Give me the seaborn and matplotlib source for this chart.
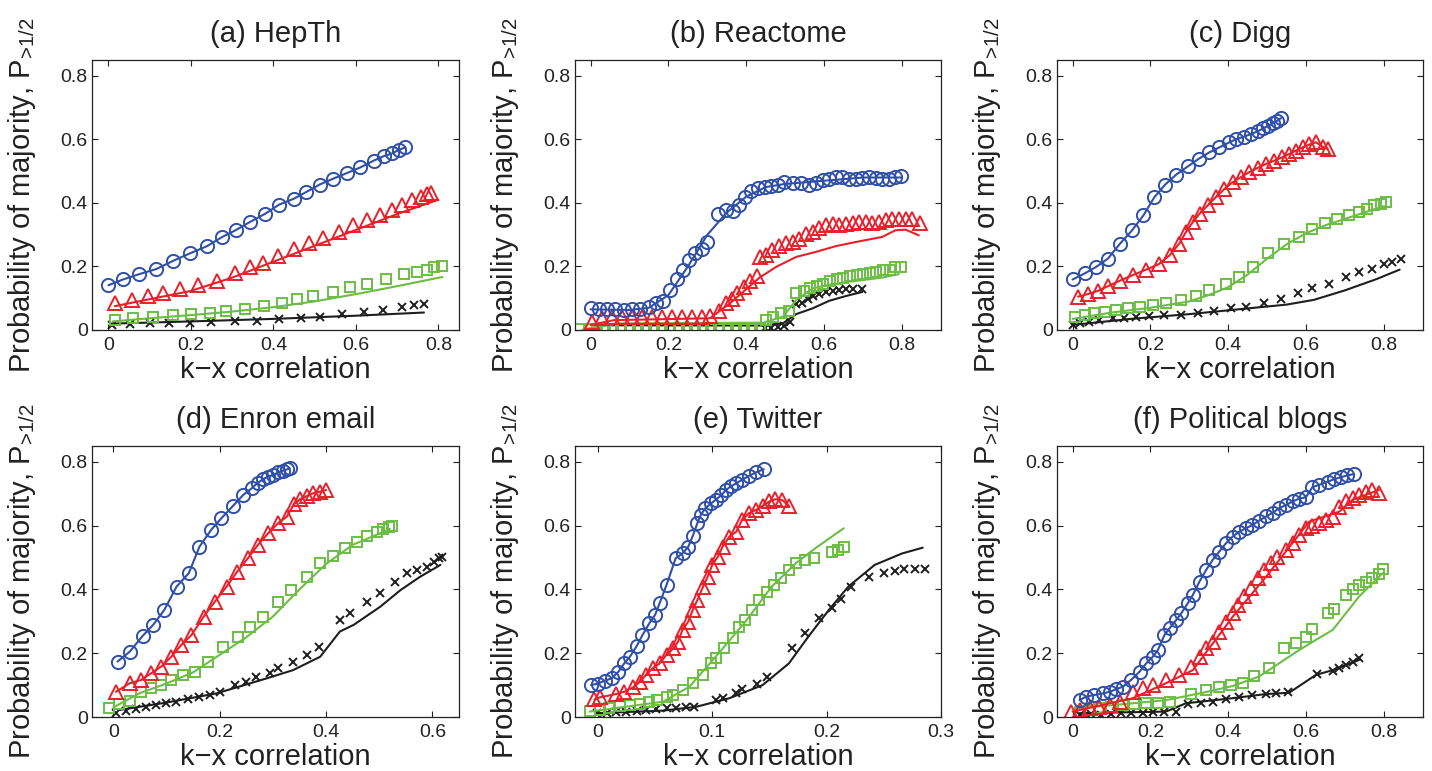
import matplotlib
matplotlib.use("Agg")
import matplotlib.pyplot as plt
import seaborn as sns

# ---- data: (k-x correlation, P>1/2) ----
titles = ["(a) HepTh", "(b) Reactome", "(c) Digg",
          "(d) Enron email", "(e) Twitter", "(f) Political blogs"]
xlabel = "k\u2212x correlation"
ylabel = r"Probability of majority, P$_{\text{>1/2}}$"
yticks = [0, 0.2, 0.4, 0.6, 0.8]
ytick_labels = ["0", "0.2", "0.4", "0.6", "0.8"]
xticks_wide = [0, 0.2, 0.4, 0.6, 0.8]
xtick_labels_wide = ["0", "0.2", "0.4", "0.6", "0.8"]
xticks_enron = [0, 0.2, 0.4, 0.6]
xtick_labels_enron = ["0", "0.2", "0.4", "0.6"]
xticks_twitter = [0, 0.1, 0.2, 0.3]
xtick_labels_twitter = ["0", "0.1", "0.2", "0.3"]

# (a) HepTh
a_blue = [(0.0, 0.141), (0.035, 0.159), (0.075, 0.176), (0.116, 0.192), (0.157, 0.218), (0.197, 0.241),
          (0.239, 0.264), (0.276, 0.293), (0.308, 0.314), (0.343, 0.340), (0.380, 0.366), (0.414, 0.395),
          (0.449, 0.413), (0.479, 0.434), (0.512, 0.458), (0.544, 0.476), (0.578, 0.494), (0.611, 0.512),
          (0.643, 0.533), (0.667, 0.547), (0.688, 0.556), (0.704, 0.567), (0.720, 0.575)]
a_red = [(0.015, 0.084), (0.058, 0.094), (0.096, 0.107), (0.132, 0.115), (0.173, 0.128), (0.217, 0.141),
         (0.264, 0.154), (0.307, 0.180), (0.343, 0.199), (0.375, 0.211), (0.412, 0.232), (0.449, 0.256),
         (0.487, 0.274), (0.520, 0.291), (0.558, 0.308), (0.594, 0.329), (0.627, 0.347), (0.659, 0.363),
         (0.688, 0.379), (0.712, 0.392), (0.736, 0.408), (0.757, 0.418), (0.773, 0.429), (0.783, 0.431)]
a_red_fit = [(0.015, 0.075), (0.1, 0.097), (0.2, 0.123), (0.3, 0.165), (0.4, 0.215), (0.5, 0.265),
             (0.6, 0.315), (0.7, 0.365), (0.8, 0.41)]
a_green = [(0.015, 0.033), (0.059, 0.037), (0.108, 0.042), (0.157, 0.047), (0.201, 0.050), (0.246, 0.054),
           (0.286, 0.060), (0.331, 0.065), (0.376, 0.075), (0.420, 0.086), (0.457, 0.099), (0.497, 0.107),
           (0.544, 0.119), (0.586, 0.134), (0.627, 0.144), (0.672, 0.159), (0.716, 0.176), (0.749, 0.183),
           (0.773, 0.190), (0.789, 0.199), (0.808, 0.201)]
a_green_fit = [(0.01, 0.027), (0.1, 0.037), (0.2, 0.047), (0.3, 0.058), (0.4, 0.072), (0.5, 0.09),
               (0.6, 0.113), (0.7, 0.138), (0.81, 0.167)]
a_black = [(0.008, 0.016), (0.051, 0.018), (0.100, 0.021), (0.147, 0.021), (0.197, 0.023), (0.248, 0.026),
           (0.307, 0.029), (0.361, 0.029), (0.414, 0.035), (0.467, 0.037), (0.513, 0.042), (0.566, 0.050),
           (0.619, 0.058), (0.666, 0.063), (0.712, 0.073), (0.740, 0.078), (0.765, 0.082)]
a_black_fit = [(0.006, 0.02), (0.2, 0.027), (0.4, 0.035), (0.6, 0.045), (0.765, 0.055)]

# (b) Reactome
b_blue = [(0.0, 0.068), (0.021, 0.065), (0.043, 0.065), (0.064, 0.065), (0.085, 0.063), (0.106, 0.067),
          (0.128, 0.067), (0.149, 0.073), (0.169, 0.084), (0.186, 0.092), (0.204, 0.125), (0.221, 0.159),
          (0.237, 0.188), (0.254, 0.220), (0.268, 0.241), (0.285, 0.256), (0.298, 0.277), (0.328, 0.364),
          (0.347, 0.379), (0.366, 0.376), (0.381, 0.395), (0.396, 0.420), (0.413, 0.437), (0.430, 0.448),
          (0.447, 0.450), (0.464, 0.452), (0.481, 0.458), (0.498, 0.465), (0.519, 0.462), (0.541, 0.462),
          (0.562, 0.458), (0.579, 0.462), (0.596, 0.471), (0.613, 0.476), (0.630, 0.481), (0.647, 0.481),
          (0.664, 0.476), (0.681, 0.476), (0.698, 0.479), (0.715, 0.481), (0.732, 0.479), (0.749, 0.476),
          (0.766, 0.476), (0.783, 0.481), (0.796, 0.486)]
b_blue_fit = [(0.0, 0.065), (0.1, 0.063), (0.15, 0.07), (0.2, 0.11), (0.25, 0.2), (0.3, 0.3),
              (0.35, 0.37), (0.4, 0.42), (0.45, 0.45), (0.5, 0.46), (0.6, 0.47), (0.7, 0.48), (0.8, 0.48)]
b_red = [(0.004, 0.026), (0.030, 0.037), (0.055, 0.042), (0.081, 0.042), (0.106, 0.042), (0.132, 0.042),
         (0.158, 0.042), (0.183, 0.042), (0.209, 0.042), (0.234, 0.042), (0.260, 0.042), (0.285, 0.042),
         (0.307, 0.044), (0.330, 0.061), (0.349, 0.084), (0.362, 0.099), (0.376, 0.115), (0.393, 0.134),
         (0.410, 0.155), (0.427, 0.169), (0.434, 0.230), (0.450, 0.235), (0.467, 0.251), (0.484, 0.264),
         (0.502, 0.274), (0.519, 0.277), (0.536, 0.288), (0.553, 0.303), (0.570, 0.308), (0.587, 0.322),
         (0.605, 0.329), (0.622, 0.335), (0.639, 0.332), (0.656, 0.335), (0.673, 0.337), (0.690, 0.340),
         (0.707, 0.340), (0.724, 0.337), (0.741, 0.340), (0.758, 0.345), (0.775, 0.350), (0.792, 0.350),
         (0.809, 0.350), (0.826, 0.350), (0.847, 0.337)]
b_red_fit = [(0.0, 0.016), (0.060, 0.031), (0.307, 0.037), (0.358, 0.084), (0.434, 0.165), (0.477, 0.199),
             (0.528, 0.230), (0.579, 0.246), (0.630, 0.264), (0.681, 0.277), (0.749, 0.293), (0.783, 0.314),
             (0.809, 0.316), (0.843, 0.298)]
b_green = [(-0.026, 0.004), (-0.005, 0.004), (0.016, 0.004), (0.037, 0.004), (0.058, 0.004), (0.079, 0.004),
           (0.100, 0.004), (0.121, 0.004), (0.142, 0.004), (0.163, 0.004), (0.184, 0.004), (0.205, 0.004),
           (0.226, 0.004), (0.247, 0.004), (0.268, 0.004), (0.289, 0.004), (0.310, 0.004), (0.331, 0.004),
           (0.352, 0.004), (0.373, 0.004), (0.394, 0.004), (0.415, 0.004), (0.436, 0.006),
           (0.451, 0.031), (0.468, 0.042), (0.490, 0.052), (0.509, 0.061), (0.528, 0.115), (0.547, 0.123),
           (0.564, 0.131), (0.581, 0.138), (0.598, 0.146), (0.615, 0.155), (0.632, 0.162), (0.649, 0.165),
           (0.666, 0.169), (0.683, 0.173), (0.700, 0.176), (0.717, 0.180), (0.734, 0.183), (0.751, 0.188),
           (0.768, 0.190), (0.783, 0.197), (0.796, 0.199)]
b_green_fit = [(-0.02, 0.002), (0.072, 0.021), (0.443, 0.023), (0.494, 0.042), (0.528, 0.094), (0.570, 0.131),
               (0.613, 0.143), (0.664, 0.152), (0.698, 0.157), (0.749, 0.165), (0.792, 0.176)]
b_black = [(0.447, 0.005), (0.464, 0.005), (0.481, 0.008), (0.498, 0.013), (0.511, 0.026), (0.528, 0.082),
           (0.543, 0.086), (0.558, 0.099), (0.572, 0.107), (0.587, 0.113), (0.605, 0.119), (0.622, 0.123),
           (0.639, 0.125), (0.656, 0.128), (0.673, 0.130), (0.698, 0.128)]
b_black_fit = [(0.004, 0.015), (0.443, 0.014), (0.494, 0.021), (0.528, 0.050), (0.570, 0.068),
               (0.613, 0.092), (0.656, 0.107), (0.698, 0.120)]

# (c) Digg
c_blue = [(0.0, 0.159), (0.031, 0.178), (0.061, 0.199), (0.091, 0.225), (0.122, 0.272), (0.153, 0.314),
          (0.182, 0.361), (0.210, 0.418), (0.238, 0.458), (0.266, 0.489), (0.296, 0.515), (0.324, 0.539),
          (0.351, 0.559), (0.377, 0.575), (0.403, 0.591), (0.421, 0.601), (0.441, 0.609), (0.458, 0.617),
          (0.475, 0.625), (0.490, 0.635), (0.503, 0.643), (0.515, 0.652), (0.526, 0.659), (0.535, 0.667)]
c_red = [(0.014, 0.105), (0.039, 0.113), (0.065, 0.123), (0.091, 0.138), (0.121, 0.155), (0.155, 0.173),
         (0.189, 0.190), (0.221, 0.207), (0.249, 0.235), (0.274, 0.272), (0.291, 0.308), (0.309, 0.340),
         (0.326, 0.366), (0.347, 0.392), (0.368, 0.418), (0.390, 0.444), (0.411, 0.465), (0.432, 0.481),
         (0.454, 0.497), (0.475, 0.510), (0.497, 0.523), (0.518, 0.533), (0.539, 0.544), (0.556, 0.554),
         (0.574, 0.565), (0.591, 0.575), (0.608, 0.584), (0.625, 0.591), (0.642, 0.577), (0.655, 0.570)]
c_green = [(0.005, 0.042), (0.031, 0.047), (0.056, 0.052), (0.082, 0.058), (0.112, 0.063), (0.142, 0.068),
           (0.172, 0.073), (0.206, 0.078), (0.240, 0.084), (0.279, 0.094), (0.317, 0.107), (0.351, 0.125),
           (0.394, 0.146), (0.428, 0.167), (0.464, 0.199), (0.503, 0.241), (0.544, 0.270), (0.582, 0.293),
           (0.616, 0.319), (0.649, 0.337), (0.680, 0.350), (0.710, 0.361), (0.736, 0.371), (0.757, 0.382),
           (0.774, 0.392), (0.791, 0.397), (0.804, 0.403)]
c_green_fit = [(0.0, 0.035), (0.1, 0.055), (0.2, 0.07), (0.3, 0.09), (0.35, 0.11), (0.4, 0.135),
               (0.45, 0.175), (0.5, 0.225), (0.55, 0.27), (0.6, 0.305), (0.65, 0.33), (0.7, 0.35), (0.8, 0.39)]
c_black = [(0.0, 0.016), (0.018, 0.021), (0.042, 0.026), (0.069, 0.031), (0.103, 0.037), (0.133, 0.037),
           (0.163, 0.040), (0.197, 0.044), (0.236, 0.047), (0.279, 0.047), (0.321, 0.052), (0.364, 0.061),
           (0.407, 0.068), (0.445, 0.073), (0.492, 0.084), (0.535, 0.099), (0.578, 0.115), (0.616, 0.131),
           (0.659, 0.146), (0.702, 0.167), (0.736, 0.183), (0.770, 0.193), (0.800, 0.207), (0.821, 0.214),
           (0.843, 0.222)]
c_black_fit = [(0.0, 0.016), (0.15, 0.035), (0.3, 0.05), (0.45, 0.068), (0.55, 0.08), (0.62, 0.095),
               (0.7, 0.125), (0.78, 0.16), (0.84, 0.19)]

# (d) Enron email
d_blue = [(0.008, 0.174), (0.031, 0.205), (0.055, 0.254), (0.075, 0.289), (0.096, 0.336), (0.119, 0.409),
          (0.142, 0.451), (0.162, 0.534), (0.184, 0.587), (0.203, 0.623), (0.225, 0.662), (0.244, 0.696),
          (0.260, 0.717), (0.272, 0.735), (0.282, 0.746), (0.291, 0.754), (0.301, 0.759), (0.310, 0.767),
          (0.319, 0.773), (0.327, 0.777), (0.332, 0.780)]
d_red = [(0.005, 0.079), (0.031, 0.106), (0.052, 0.116), (0.071, 0.137), (0.090, 0.158), (0.109, 0.189),
         (0.128, 0.226), (0.147, 0.257), (0.170, 0.315), (0.191, 0.362), (0.213, 0.409), (0.233, 0.456),
         (0.253, 0.498), (0.272, 0.540), (0.291, 0.576), (0.310, 0.608), (0.326, 0.628), (0.340, 0.668),
         (0.351, 0.683), (0.364, 0.693), (0.376, 0.702), (0.389, 0.707), (0.400, 0.712)]
d_green = [(-0.008, 0.027), (0.011, 0.041), (0.031, 0.051), (0.052, 0.079), (0.071, 0.090), (0.090, 0.100),
           (0.109, 0.116), (0.131, 0.132), (0.153, 0.142), (0.178, 0.174), (0.206, 0.221), (0.235, 0.252),
           (0.257, 0.283), (0.282, 0.313), (0.310, 0.362), (0.335, 0.398), (0.364, 0.440), (0.389, 0.482),
           (0.414, 0.505), (0.436, 0.529), (0.458, 0.550), (0.477, 0.568), (0.496, 0.581), (0.508, 0.589),
           (0.518, 0.597), (0.524, 0.599)]
d_green_fit = [(0.0, 0.03), (0.05, 0.075), (0.1, 0.105), (0.15, 0.14), (0.2, 0.195), (0.25, 0.25),
               (0.3, 0.315), (0.35, 0.4), (0.4, 0.48), (0.45, 0.54), (0.5, 0.575), (0.52, 0.59)]
d_black = [(0.005, 0.012), (0.024, 0.020), (0.043, 0.024), (0.062, 0.030), (0.081, 0.038), (0.099, 0.043),
           (0.118, 0.048), (0.140, 0.055), (0.162, 0.064), (0.181, 0.069), (0.200, 0.079), (0.228, 0.100),
           (0.250, 0.111), (0.269, 0.127), (0.294, 0.137), (0.310, 0.153), (0.338, 0.174), (0.364, 0.195),
           (0.386, 0.221), (0.426, 0.304), (0.445, 0.325), (0.477, 0.362), (0.502, 0.388), (0.530, 0.425),
           (0.552, 0.451), (0.571, 0.461), (0.590, 0.472), (0.603, 0.487), (0.612, 0.498), (0.618, 0.503)]
d_black_fit = [(0.011, 0.022), (0.099, 0.045), (0.194, 0.074), (0.288, 0.121), (0.338, 0.147), (0.389, 0.189),
               (0.426, 0.268), (0.452, 0.289), (0.502, 0.346), (0.540, 0.398), (0.577, 0.440), (0.615, 0.477)]

# (e) Twitter
e_blue = [(-0.006, 0.100), (0.000, 0.105), (0.006, 0.114), (0.012, 0.121), (0.018, 0.142), (0.023, 0.168),
          (0.028, 0.189), (0.034, 0.223), (0.039, 0.257), (0.045, 0.294), (0.050, 0.320), (0.054, 0.357),
          (0.060, 0.414), (0.068, 0.498), (0.074, 0.513), (0.079, 0.534), (0.083, 0.568), (0.087, 0.608),
          (0.090, 0.634), (0.094, 0.655), (0.099, 0.670), (0.103, 0.681), (0.108, 0.696), (0.112, 0.712),
          (0.116, 0.723), (0.121, 0.733), (0.126, 0.744), (0.132, 0.756), (0.138, 0.767), (0.145, 0.777)]
e_red = [(-0.003, 0.055), (0.002, 0.062), (0.016, 0.072), (0.023, 0.079), (0.031, 0.093), (0.037, 0.111),
         (0.042, 0.132), (0.048, 0.153), (0.054, 0.168), (0.060, 0.195), (0.066, 0.215), (0.070, 0.236),
         (0.074, 0.273), (0.079, 0.299), (0.083, 0.336), (0.087, 0.367), (0.092, 0.409), (0.096, 0.440),
         (0.100, 0.477), (0.105, 0.503), (0.109, 0.534), (0.115, 0.566), (0.121, 0.581), (0.126, 0.618),
         (0.132, 0.639), (0.138, 0.649), (0.144, 0.662), (0.150, 0.676), (0.155, 0.683), (0.161, 0.681),
         (0.167, 0.662)]
e_green = [(-0.007, 0.020), (0.002, 0.022), (0.010, 0.027), (0.019, 0.035), (0.028, 0.038), (0.037, 0.041),
           (0.045, 0.048), (0.052, 0.053), (0.060, 0.064), (0.066, 0.069), (0.074, 0.085), (0.083, 0.106),
           (0.092, 0.132), (0.099, 0.168), (0.103, 0.184), (0.110, 0.215), (0.118, 0.247), (0.123, 0.283),
           (0.129, 0.304), (0.135, 0.336), (0.141, 0.367), (0.148, 0.393), (0.154, 0.414), (0.160, 0.435),
           (0.167, 0.461), (0.173, 0.482), (0.181, 0.493), (0.189, 0.498), (0.205, 0.519), (0.210, 0.524),
           (0.215, 0.534)]
e_green_fit = [(-0.007, 0.017), (0.057, 0.048), (0.080, 0.095), (0.103, 0.189), (0.129, 0.299),
               (0.152, 0.409), (0.173, 0.482), (0.190, 0.529), (0.215, 0.592)]
e_black = [(-0.001, 0.012), (0.008, 0.014), (0.016, 0.017), (0.025, 0.017), (0.034, 0.020), (0.042, 0.022),
           (0.051, 0.024), (0.060, 0.027), (0.068, 0.027), (0.077, 0.032), (0.084, 0.032), (0.103, 0.053),
           (0.109, 0.059), (0.121, 0.076), (0.126, 0.087), (0.139, 0.104), (0.148, 0.127), (0.170, 0.215),
           (0.181, 0.262), (0.193, 0.310), (0.205, 0.341), (0.213, 0.369), (0.221, 0.409), (0.237, 0.438),
           (0.250, 0.451), (0.260, 0.459), (0.268, 0.463), (0.277, 0.463), (0.286, 0.463)]
e_black_fit = [(-0.001, 0.012), (0.057, 0.020), (0.086, 0.032), (0.115, 0.059), (0.144, 0.100), (0.167, 0.168),
               (0.184, 0.252), (0.202, 0.336), (0.219, 0.409), (0.242, 0.477), (0.266, 0.513), (0.284, 0.531)]

# (f) Political blogs
f_blue = [(0.018, 0.053), (0.035, 0.064), (0.056, 0.069), (0.078, 0.074), (0.095, 0.079), (0.112, 0.087),
          (0.129, 0.095), (0.150, 0.116), (0.172, 0.142), (0.189, 0.168), (0.206, 0.189), (0.219, 0.210),
          (0.236, 0.257), (0.249, 0.278), (0.266, 0.304), (0.279, 0.325), (0.296, 0.357), (0.309, 0.383),
          (0.326, 0.425), (0.343, 0.461), (0.360, 0.493), (0.377, 0.519), (0.394, 0.545), (0.411, 0.566),
          (0.428, 0.581), (0.445, 0.592), (0.462, 0.602), (0.479, 0.616), (0.497, 0.629), (0.514, 0.641),
          (0.531, 0.655), (0.548, 0.665), (0.565, 0.676), (0.582, 0.685), (0.599, 0.689), (0.616, 0.721),
          (0.633, 0.728), (0.655, 0.738), (0.672, 0.746), (0.689, 0.752), (0.706, 0.758), (0.723, 0.762)]
f_red = [(-0.003, 0.017), (0.018, 0.022), (0.044, 0.027), (0.069, 0.032), (0.095, 0.038), (0.121, 0.048),
         (0.155, 0.079), (0.180, 0.090), (0.206, 0.100), (0.240, 0.116), (0.274, 0.132), (0.304, 0.158),
         (0.326, 0.189), (0.343, 0.215), (0.360, 0.236), (0.377, 0.268), (0.394, 0.299), (0.411, 0.325),
         (0.424, 0.351), (0.441, 0.378), (0.458, 0.404), (0.475, 0.435), (0.492, 0.461), (0.509, 0.482),
         (0.526, 0.503), (0.548, 0.524), (0.565, 0.545), (0.582, 0.571), (0.599, 0.592), (0.616, 0.599),
         (0.633, 0.608), (0.650, 0.618), (0.668, 0.626), (0.685, 0.660), (0.702, 0.676), (0.719, 0.686),
         (0.736, 0.696), (0.753, 0.707), (0.770, 0.712), (0.787, 0.704)]
f_red_fit = [(0.0, 0.017), (0.155, 0.059), (0.240, 0.106), (0.309, 0.147), (0.411, 0.314), (0.497, 0.440),
             (0.608, 0.613), (0.685, 0.644), (0.719, 0.681), (0.787, 0.712)]
f_green = [(0.018, 0.017), (0.044, 0.022), (0.069, 0.027), (0.099, 0.032), (0.129, 0.038), (0.159, 0.041),
           (0.189, 0.043), (0.219, 0.045), (0.249, 0.048), (0.304, 0.072), (0.343, 0.085), (0.377, 0.095),
           (0.407, 0.100), (0.437, 0.106), (0.467, 0.129), (0.505, 0.153), (0.544, 0.215), (0.574, 0.233),
           (0.599, 0.250), (0.616, 0.275), (0.655, 0.325), (0.672, 0.338), (0.702, 0.383), (0.719, 0.401),
           (0.736, 0.414), (0.753, 0.425), (0.770, 0.435), (0.787, 0.449), (0.796, 0.463)]
f_green_fit = [(0.009, 0.027), (0.112, 0.038), (0.240, 0.053), (0.326, 0.074), (0.411, 0.097), (0.479, 0.127),
               (0.582, 0.210), (0.625, 0.242), (0.668, 0.273), (0.736, 0.378), (0.796, 0.451)]
f_black = [(0.018, 0.006), (0.048, 0.008), (0.074, 0.006), (0.099, 0.009), (0.125, 0.012), (0.150, 0.012),
           (0.180, 0.014), (0.206, 0.017), (0.236, 0.017), (0.266, 0.017), (0.296, 0.041), (0.330, 0.045),
           (0.360, 0.048), (0.394, 0.055), (0.428, 0.064), (0.462, 0.069), (0.497, 0.072), (0.522, 0.074),
           (0.552, 0.079), (0.629, 0.135), (0.668, 0.145), (0.685, 0.153), (0.702, 0.163), (0.719, 0.174),
           (0.736, 0.184)]
f_black_fit = [(0.018, 0.012), (0.240, 0.017), (0.291, 0.043), (0.411, 0.059), (0.497, 0.072),
               (0.556, 0.076), (0.625, 0.132), (0.668, 0.147), (0.736, 0.179)]

# ---- styling ----
sns.set_theme(style="ticks")
plt.rcParams["font.family"] = ["Liberation Sans", "DejaVu Sans"]
plt.rcParams["mathtext.fontset"] = "custom"
plt.rcParams["mathtext.rm"] = "Liberation Sans"

BLUE, RED, GREEN, BLACK = "#2f4fa8", "#e8202a", "#6cbd45", "#1e1e1e"
styles = {
    "blue": dict(color=BLUE, marker="o", ms=9.5),
    "red": dict(color=RED, marker="^", ms=10),
    "green": dict(color=GREEN, marker="s", ms=6.5),
    "black": dict(color=BLACK, marker="x", ms=6),
}

panels = [
    (a_black, a_black_fit, a_green, a_green_fit, a_red, a_red_fit, a_blue, a_blue),
    (b_black, b_black_fit, b_green, b_green_fit, b_red, b_red_fit, b_blue, b_blue_fit),
    (c_black, c_black_fit, c_green, c_green_fit, c_red, c_red, c_blue, c_blue),
    (d_black, d_black_fit, d_green, d_green_fit, d_red, d_red, d_blue, d_blue),
    (e_black, e_black_fit, e_green, e_green_fit, e_red, e_red, e_blue, e_blue),
    (f_black, f_black_fit, f_green, f_green_fit, f_red, f_red_fit, f_blue, f_blue),
]
xlims = [(-0.04, 0.85), (-0.04, 0.9), (-0.04, 0.9), (-0.04, 0.65), (-0.02, 0.3), (-0.04, 0.9)]
xtick_sets = [(xticks_wide, xtick_labels_wide)] * 3 + [(xticks_enron, xtick_labels_enron),
              (xticks_twitter, xtick_labels_twitter), (xticks_wide, xtick_labels_wide)]

W, H = 1432, 771
fig = plt.figure(figsize=(W / 100, H / 100), dpi=100)
fig.patch.set_facecolor("white")
col_left = [92, 575, 1057]
col_width = [367, 366, 366]
row_top = [60, 446]
row_bot = [330, 717]

for i, data in enumerate(panels):
    r, c = divmod(i, 3)
    ax = fig.add_axes([col_left[c] / W, 1 - row_bot[r] / H,
                       col_width[c] / W, (row_bot[r] - row_top[r]) / H])
    names = ["black", "green", "red", "blue"]
    for k, name in enumerate(names):
        pts, fit = data[2 * k], data[2 * k + 1]
        st = styles[name]
        sns.lineplot(x=[p[0] for p in fit], y=[p[1] for p in fit], ax=ax,
                     color=st["color"], lw=1.5, sort=False, estimator=None)
        sns.lineplot(x=[p[0] for p in pts], y=[p[1] for p in pts], ax=ax,
                     color=st["color"], linestyle="", marker=st["marker"], ms=st["ms"],
                     markerfacecolor="none", markeredgecolor=st["color"],
                     markeredgewidth=1.4, sort=False, estimator=None)

    ax.set_xlim(*xlims[i])
    ax.set_ylim(0, 0.85)
    xt, xtl = xtick_sets[i]
    ax.set_xticks(xt)
    ax.set_xticklabels(xtl)
    ax.set_yticks(yticks)
    ax.set_yticklabels(ytick_labels)
    ax.tick_params(direction="in", top=True, right=True, length=4, width=0.8,
                   labelsize=14, colors="#222222", pad=5)
    ax.tick_params(axis="y", pad=3)
    for sp in ax.spines.values():
        sp.set_visible(True)
        sp.set_linewidth(0.9)
        sp.set_color("#222222")
    ax.set_facecolor("white")
    ax.set_title(titles[i], fontsize=21, pad=13, color="#222222")
    ax.set_xlabel(xlabel, fontsize=21, color="#222222")
    ax.set_ylabel(ylabel, fontsize=21, color="#222222")
    ax.xaxis.set_label_coords(0.5, -0.095)
    ax.yaxis.set_label_coords(-0.147, 0.5)

fig.savefig("out.png", dpi=100, facecolor="white")
